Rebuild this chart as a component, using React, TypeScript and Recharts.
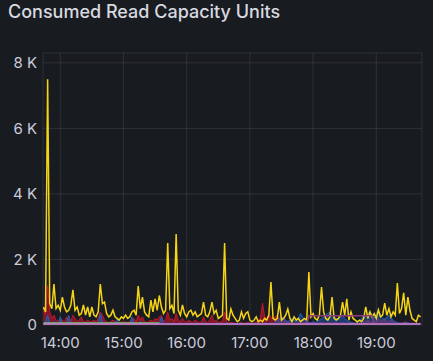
import React from 'react';
import { ComposedChart, Line, Area, XAxis, YAxis, CartesianGrid } from 'recharts';

// time axis: minutes since midnight, one sample every 2 minutes from 13:44
const startMinute = 824;
const stepMinutes = 2;
const hourTicks = [840, 900, 960, 1020, 1080, 1140];
const valueTicks = [0, 2000, 4000, 6000, 8000];

const yellow = [
  550, 400, 7500, 650, 500, 1250, 500, 600, 450, 850,
  550, 400, 450, 600, 1070, 450, 550, 300, 350, 610,
  300, 550, 250, 550, 300, 250, 400, 1250, 650, 700,
  350, 250, 300, 450, 250, 200, 150, 250, 200, 300,
  200, 250, 400, 450, 300, 1190, 500, 850, 400, 300,
  250, 760, 400, 800, 450, 900, 550, 350, 450, 2500,
  500, 600, 350, 2780, 450, 300, 610, 350, 250, 400,
  450, 300, 400, 250, 300, 350, 700, 300, 250, 400,
  700, 350, 450, 200, 250, 300, 2500, 200, 150, 490,
  300, 200, 100, 150, 400, 200, 350, 400, 150, 100,
  150, 250, 100, 150, 100, 200, 150, 300, 1310, 200,
  150, 200, 700, 150, 200, 300, 490, 200, 100, 250,
  150, 200, 100, 150, 200, 150, 1620, 250, 350, 200,
  150, 300, 1160, 400, 200, 150, 250, 850, 200, 150,
  200, 300, 700, 300, 800, 150, 400, 200, 150, 100,
  150, 100, 200, 550, 200, 400, 250, 350, 200, 460,
  250, 300, 670, 300, 500, 250, 400, 300, 1280, 350,
  500, 980, 300, 850, 450, 200, 150, 100, 300, 250,
];

const red = [
  500, 300, 1200, 400, 200, 300, 150, 100, 200, 150,
  100, 250, 150, 100, 300, 200, 100, 150, 250, 100,
  100, 150, 100, 100, 150, 100, 200, 400, 300, 150,
  100, 80, 100, 150, 100, 80, 60, 100, 80, 100,
  80, 100, 150, 200, 100, 300, 150, 250, 100, 80,
  100, 150, 100, 200, 150, 250, 300, 100, 150, 400,
  150, 200, 100, 350, 150, 100, 200, 100, 80, 150,
  100, 80, 150, 100, 80, 100, 250, 100, 80, 150,
  300, 100, 150, 80, 100, 80, 400, 100, 60, 80,
  60, 50, 40, 60, 80, 50, 60, 80, 50, 40,
  60, 100, 150, 200, 670, 250, 200, 300, 250, 200,
  250, 300, 200, 150, 100, 150, 100, 80, 60, 50,
  60, 80, 50, 60, 80, 100, 60, 50, 80, 60,
  50, 60, 80, 60, 50, 80, 60, 50, 60, 80,
  60, 50, 80, 60, 50, 60, 80, 60, 50, 60,
  50, 60, 80, 100, 150, 100, 80, 60, 150, 200,
  100, 150, 200, 100, 80, 150, 100, 80, 60, 50,
  60, 80, 100, 60, 50, 60, 50, 40, 50, 60,
];

const blue = [
  50, 100, 300, 80, 50, 100, 60, 40, 250, 50,
  40, 50, 300, 60, 50, 40, 80, 50, 60, 40,
  50, 60, 40, 50, 80, 50, 40, 350, 100, 60,
  50, 40, 60, 50, 40, 200, 50, 40, 60, 50,
  40, 50, 250, 60, 40, 50, 100, 60, 40, 50,
  60, 40, 50, 40, 60, 50, 250, 40, 50, 60,
  40, 50, 60, 40, 50, 60, 40, 50, 40, 60,
  50, 40, 60, 50, 40, 50, 60, 40, 50, 40,
  50, 40, 60, 50, 40, 50, 40, 60, 50, 40,
  40, 50, 40, 60, 50, 40, 50, 40, 60, 50,
  40, 50, 60, 40, 50, 60, 50, 40, 60, 50,
  80, 150, 200, 250, 200, 150, 100, 150, 200, 150,
  100, 200, 350, 250, 150, 100, 80, 60, 100, 80,
  100, 150, 200, 250, 300, 350, 400, 300, 250, 200,
  150, 250, 300, 200, 150, 100, 80, 60, 50, 100,
  150, 200, 300, 250, 350, 400, 300, 200, 350, 450,
  300, 200, 150, 250, 300, 200, 150, 100, 80, 60,
  50, 60, 80, 60, 50, 40, 50, 40, 50, 40,
];

// sparse series: [time, value] pairs joined with connectNulls
const greenTimes = [824, 860, 900, 934];
const green = [60, 60, 60, 60];
const lavenderTimes = [824, 900, 1000, 1100, 1182];
const lavender = [30, 30, 30, 30, 30];
const plumTimes = [1074, 1076, 1136, 1138];
const plum = [30, 280, 280, 30];

const pick = (times: number[], values: number[], t: number) => {
  const k = times.indexOf(t);
  return k >= 0 ? values[k] : undefined;
};

const rows = yellow.map((v, i) => {
  const t = startMinute + i * stepMinutes;
  return {
    t,
    yellow: v,
    red: red[i],
    blue: blue[i],
    green: pick(greenTimes, green, t),
    lavender: pick(lavenderTimes, lavender, t),
    plum: pick(plumTimes, plum, t),
  };
});

const fmtTime = (m: number) => {
  const h = Math.floor(m / 60);
  const mm = m % 60;
  return `${h}:${mm < 10 ? '0' : ''}${mm}`;
};

const fmtValue = (v: number) => (v === 0 ? '0' : `${v / 1000} K`);

const axisText = { fill: '#ccccdc', fontSize: 15, fontFamily: 'Inter' };

export default function App() {
  return (
    <div
      style={{
        position: 'absolute',
        left: 0,
        top: 0,
        width: 433,
        height: 361,
        background: '#181b1f',
        fontFamily: 'Inter',
        overflow: 'hidden',
      }}
    >
      <div
        style={{
          position: 'absolute',
          left: 8,
          top: 3,
          fontSize: 18,
          lineHeight: '18px',
          fontWeight: 500,
          color: '#d8d9e0',
        }}
      >
        Consumed Read Capacity Units
      </div>
      <ComposedChart width={433} height={361} data={rows} margin={{ top: 53, right: 11, bottom: 0, left: 0 }}>
        <CartesianGrid stroke="rgba(204,204,220,0.12)" />
        <XAxis
          dataKey="t"
          type="number"
          domain={[823.6, 1183.4]}
          ticks={hourTicks}
          tickFormatter={fmtTime}
          allowDataOverflow
          height={36}
          tickLine={false}
          axisLine={false}
          tickSize={0}
          tickMargin={12}
          tick={axisText}
        />
        <YAxis
          domain={[0, 8300]}
          ticks={valueTicks}
          tickFormatter={fmtValue}
          allowDataOverflow
          width={43}
          tickLine={false}
          axisLine={false}
          tickSize={0}
          tickMargin={6}
          tick={axisText}
        />
        <Area dataKey="red" type="linear" stroke="#c4162a" fill="#c4162a" fillOpacity={0.6} strokeWidth={1} dot={false} isAnimationActive={false} />
        <Line dataKey="yellow" type="linear" stroke="#f5d416" strokeWidth={1.5} dot={false} isAnimationActive={false} />
        <Area dataKey="blue" type="linear" stroke="#1f60c4" fill="#1f60c4" fillOpacity={0.5} strokeWidth={1} dot={false} isAnimationActive={false} />
        <Line dataKey="green" type="linear" stroke="#73bf69" strokeWidth={1.5} dot={false} connectNulls isAnimationActive={false} />
        <Line dataKey="plum" type="linear" stroke="#8f3b78" strokeWidth={1.5} dot={false} connectNulls isAnimationActive={false} />
        <Line dataKey="lavender" type="linear" stroke="#d683ce" strokeWidth={1.5} dot={false} connectNulls isAnimationActive={false} />
      </ComposedChart>
    </div>
  );
}
